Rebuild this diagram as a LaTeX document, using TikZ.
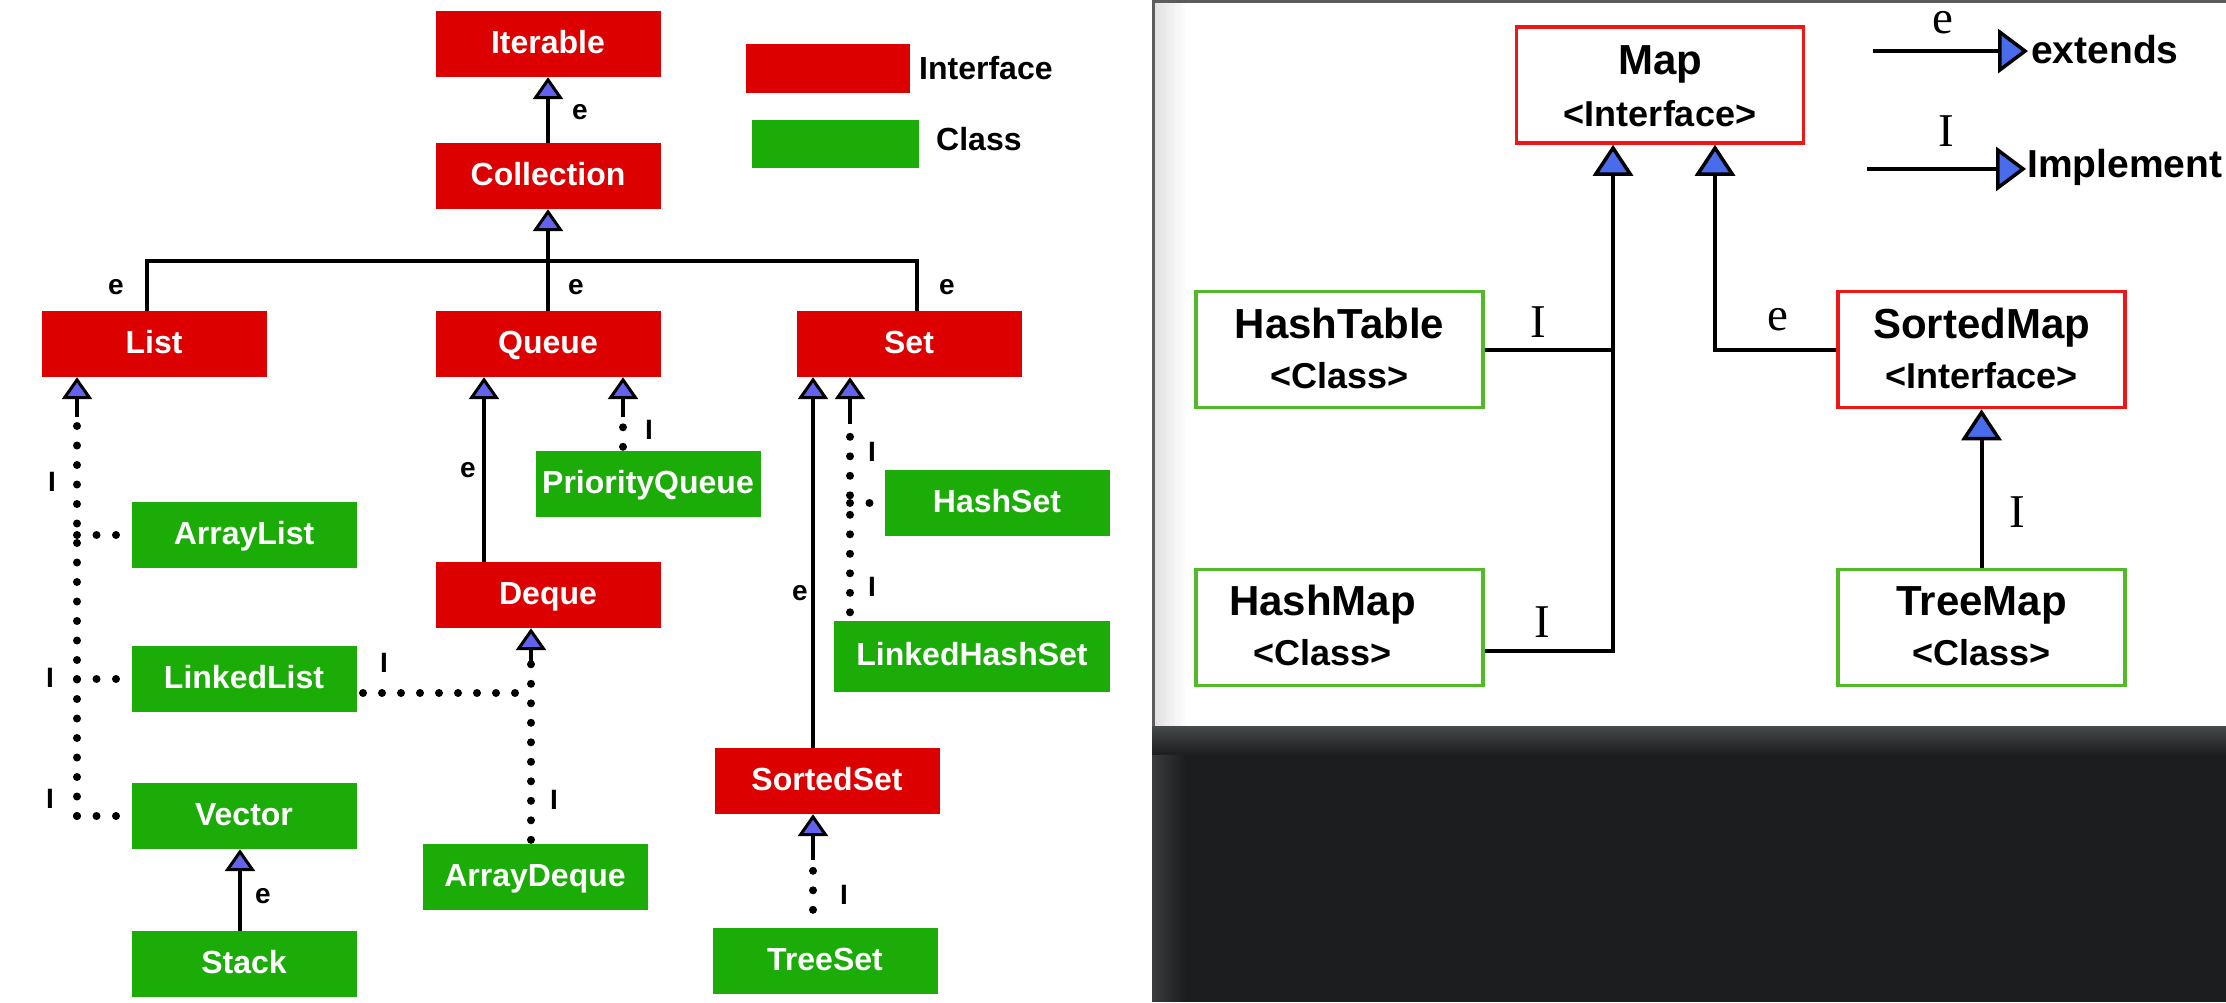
\documentclass[tikz,border=0pt]{standalone}
\usepackage{fontspec}
\setmainfont{Liberation Sans}
\newfontfamily\serifR{Liberation Serif}
\usetikzlibrary{arrows.meta,calc}
\definecolor{ifred}{RGB}{221,0,0}
\definecolor{clgreen}{RGB}{28,172,8}
\definecolor{arrowL}{RGB}{98,98,238}
\definecolor{arrowR}{RGB}{72,108,236}
\definecolor{rred}{RGB}{240,22,22}
\definecolor{rgreen}{RGB}{82,186,40}
\definecolor{darkbg}{RGB}{27,29,30}
\definecolor{darkedge}{RGB}{70,72,74}
\definecolor{darkside}{RGB}{58,60,62}
\definecolor{panelgray}{RGB}{92,92,92}
\newcommand\FontBox{\fontsize{32pt}{38pt}\selectfont\bfseries}
\newcommand\FontLab{\fontsize{28pt}{34pt}\selectfont\bfseries}
\newcommand\FontRT{\fontsize{42pt}{50pt}\selectfont\bfseries}
\newcommand\FontRS{\fontsize{36pt}{42pt}\selectfont\bfseries}
\newcommand\FontRL{\fontsize{39pt}{46pt}\selectfont\bfseries}
\newcommand\FontSer{\fontsize{47pt}{56pt}\selectfont\serifR}
\tikzset{
  tipL/.tip={Triangle[width=30pt,length=22pt,fill=arrowL,line width=3pt]},
  tipR/.tip={Triangle[width=40pt,length=31pt,fill=arrowR,line width=3.5pt]},
  tipLeg/.tip={Triangle[width=44pt,length=30pt,fill=arrowR,line width=3.5pt]},
  ibox/.style={rectangle, fill=ifred, minimum width=225pt, minimum height=66pt,
    inner sep=0pt, text=white, font=\FontBox, text height=23pt, text depth=4pt},
  cbox/.style={ibox, fill=clgreen},
  lab/.style={font=\FontLab, inner sep=0pt},
  slab/.style={font=\FontSer, inner sep=0pt},
  sl/.style={line width=3.5pt, draw=black},
  barl/.style={line width=4.5pt, draw=black, line cap=rect},
  dotl/.style={line width=8pt, line cap=round, dash pattern=on 0pt off 19.5pt},
  rbox/.style={rectangle, fill=white, line width=3.5pt, minimum width=287pt,
    minimum height=116pt, inner sep=0pt},
  rtitle/.style={font=\FontRT, anchor=base, inner sep=0pt},
  rsub/.style={font=\FontRS, anchor=base, inner sep=0pt},
  rl/.style={line width=4pt, draw=black},
}
\begin{document}
\begin{tikzpicture}[x=1pt,y=-1pt]
\useasboundingbox (0,0) rectangle (2226,1002);
% ---------- backgrounds ----------
\fill[white] (0,0) rectangle (2226,1002);
\fill[panelgray] (1152,0) rectangle (2226,3);
\fill[panelgray] (1152,0) rectangle (1154.5,726);
\foreach \i in {0,...,15}{
  \pgfmathtruncatemacro\p{12-\i*12/16}
  \fill[black!\p] (1154.5+2*\i,3) rectangle (1157+2*\i,726);
}
\fill[darkbg] (1152,726) rectangle (2226,1002);
\foreach \i in {0,...,15}{
  \pgfmathtruncatemacro\p{100-\i*100/16}
  \fill[darkside!\p!darkbg] (1152+2*\i,726) rectangle (1154.5+2*\i,1002);
}
\foreach \i in {0,...,13}{
  \pgfmathtruncatemacro\p{100-\i*100/14}
  \fill[darkedge!\p!darkbg] (1152,726+2*\i) rectangle (2226,728.5+2*\i);
}

% ---------- left panel nodes ----------
\node[ibox] (Iterable) at (548,44) {Iterable};
\node[ibox] (Collection) at (548,176) {Collection};
\node[ibox] (List) at (154,344) {List};
\node[ibox] (Queue) at (548,344) {Queue};
\node[ibox] (Set) at (909,344) {Set};
\node[cbox] (ArrayList) at (244,535) {ArrayList};
\node[cbox] (LinkedList) at (244,679) {LinkedList};
\node[cbox] (Vector) at (244,816) {Vector};
\node[cbox] (Stack) at (244,964) {Stack};
\node[ibox] (Deque) at (548,595) {Deque};
\node[cbox] (ArrayDeque) at (535,877) {ArrayDeque};
\node[cbox] (PQ) at (648,484) {PriorityQueue};
\node[cbox] (HashSet) at (997,503) {HashSet};
\node[cbox, minimum width=276pt, minimum height=71pt] (LHS) at (972,656) {LinkedHashSet};
\node[ibox] (SortedSet) at (827,781) {SortedSet};
\node[cbox] (TreeSet) at (825,961) {TreeSet};

% legend (left)
\node[rectangle, fill=ifred, minimum width=164pt, minimum height=49pt, inner sep=0pt] (legIf) at (828,68.5) {};
\node[font=\FontBox, anchor=base west, inner sep=0pt] (legIfT) at (919,79) {Interface};
\node[rectangle, fill=clgreen, minimum width=167pt, minimum height=48pt, inner sep=0pt] (legCl) at (835.5,144) {};
\node[font=\FontBox, anchor=base west, inner sep=0pt] (legClT) at (936,150) {Class};

% ---------- left panel connectors ----------
\coordinate (barY) at (0,261);
\coordinate (xList) at (147,0);
\coordinate (xSet) at (917,0);
\coordinate (xLi) at (77,0);
\coordinate (xQD) at (484,0);
\coordinate (xPQ) at (623,0);
\coordinate (xAD) at (531,0);
\coordinate (xSS) at (813,0);
\coordinate (xLH) at (850,0);
\coordinate (xVS) at (240,0);

\draw[sl,-{tipL}] (Collection.north) -- (Iterable.south);
\draw[barl] (xList |- barY) -- (xSet |- barY);
\draw[sl] (List.north -| xList) -- (xList |- barY);
\draw[sl] (Queue.north) -- (Queue.north |- barY);
\draw[sl] (Set.north -| xSet) -- (xSet |- barY);
\draw[sl,-{tipL}] (Collection.south |- barY) -- (Collection.south);

% List implementations
\draw[dotl] (Vector.west -| xLi) -- ($(List.south -| xLi)+(0,33)$);
\draw[sl,-{tipL}] ($(List.south -| xLi)+(0,40)$) -- (List.south -| xLi);
\draw[dotl] (ArrayList.west -| xLi) -- ($(ArrayList.west)+(-6,0)$);
\draw[dotl] (LinkedList.west -| xLi) -- ($(LinkedList.west)+(-6,0)$);
\draw[dotl] (Vector.west -| xLi) -- ($(Vector.west)+(-6,0)$);

% Queue / Deque
\draw[sl,-{tipL}] (Deque.north -| xQD) -- (Queue.south -| xQD);
\draw[dotl] ($(PQ.north -| xPQ)+(0,-4)$) -- ($(Queue.south -| xPQ)+(0,33)$);
\draw[sl,-{tipL}] ($(Queue.south -| xPQ)+(0,40)$) -- (Queue.south -| xPQ);
\draw[dotl] ($(ArrayDeque.north -| xAD)+(0,-4)$) -- ($(Deque.south -| xAD)+(0,30)$);
\draw[sl,-{tipL}] ($(Deque.south -| xAD)+(0,36)$) -- (Deque.south -| xAD);
\draw[dotl, dash pattern=on 0pt off 19pt] ($(LinkedList.east -| xAD)+(-16,14)$) -- ($(LinkedList.east)+(6,14)$);

% Set
\draw[sl,-{tipL}] (SortedSet.north -| xSS) -- (Set.south -| xSS);
\draw[dotl] ($(LHS.north -| xLH)+(0,-8)$) -- ($(Set.south -| xLH)+(0,58)$);
\draw[sl,-{tipL}] ($(Set.south -| xLH)+(0,47)$) -- (Set.south -| xLH);
\draw[dotl] (HashSet.west -| xLH) -- ($(HashSet.west)+(-6,0)$);
\draw[dotl] ($(TreeSet.north -| xSS)+(0,-18)$) -- ($(SortedSet.south -| xSS)+(0,56)$);
\draw[sl,-{tipL}] ($(SortedSet.south -| xSS)+(0,46)$) -- (SortedSet.south -| xSS);

% Vector / Stack
\draw[sl,-{tipL}] (Stack.north -| xVS) -- (Vector.south -| xVS);

% left labels
\node[lab] at (580,112) {e};
\node[lab] at (116,287) {e};
\node[lab] at (576,287) {e};
\node[lab] at (947,287) {e};
\node[lab] at (468,470) {e};
\node[lab] at (800,593) {e};
\node[lab] at (263,896) {e};
\node[lab] at (52,482) {I};
\node[lab] at (50,678) {I};
\node[lab] at (50,799) {I};
\node[lab] at (384,663) {I};
\node[lab] at (554,800) {I};
\node[lab] at (649,430) {I};
\node[lab] at (872,452) {I};
\node[lab] at (872,587) {I};
\node[lab] at (844,895) {I};

% ---------- right panel ----------
\node[rbox, draw=rred] (Map) at (1660,85) {};
\node[rbox, draw=rgreen] (HashTable) at (1339.5,349.5) {};
\node[rbox, draw=rred] (SortedMap) at (1981.5,349.5) {};
\node[rbox, draw=rgreen] (HashMap) at (1339.5,627.5) {};
\node[rbox, draw=rgreen] (TreeMap) at (1981.5,627.5) {};

\node[rtitle] at ($(Map.center)+(0,-11)$) {Map};
\node[rsub] at ($(Map.center)+(0,41)$) {<Interface>};
\node[rtitle] at ($(HashTable.center)+(0,-11)$) {HashTable};
\node[rsub] at ($(HashTable.center)+(0,39)$) {<Class>};
\node[rtitle] at ($(SortedMap.center)+(0,-11)$) {SortedMap};
\node[rsub] at ($(SortedMap.center)+(0,39)$) {<Interface>};
\node[rtitle] at ($(HashMap.center)+(-17,-12)$) {HashMap};
\node[rsub] at ($(HashMap.center)+(-17,38)$) {<Class>};
\node[rtitle] at ($(TreeMap.center)+(0,-12)$) {TreeMap};
\node[rsub] at ($(TreeMap.center)+(0,38)$) {<Class>};

\coordinate (mx1) at (1613,0);
\coordinate (mx2) at (1715,0);
\draw[rl,-{tipR}] ($(HashMap.east)+(0,23)$) -| (Map.south -| mx1);
\draw[rl] (HashTable.east) -- (HashTable.east -| mx1);
\draw[rl,-{tipR}] (SortedMap.west) -| (Map.south -| mx2);
\draw[rl,-{tipR}] (TreeMap.north) -- (SortedMap.south);

\node[slab] at (1538,322) {I};
\node[slab] at (1778,320) {e};
\node[slab] at (1542,622) {I};
\node[slab] at (2017,512) {I};

% right legend
\node[font=\FontRL, anchor=base west, inner sep=0pt] (extT) at (2031,63) {extends};
\node[font=\FontRL, anchor=base west, inner sep=0pt] (impT) at (2027,177) {Implement};
\draw[rl,-{tipLeg}] ($(extT.west)+(-158,2)$) -- ($(extT.west)+(-3,2)$);
\draw[rl,-{tipLeg}] ($(impT.west)+(-160,2)$) -- ($(impT.west)+(-1,2)$);
\node[slab] at (1943,23) {e};
\node[slab] at (1946,131) {I};
\end{tikzpicture}
\end{document}
